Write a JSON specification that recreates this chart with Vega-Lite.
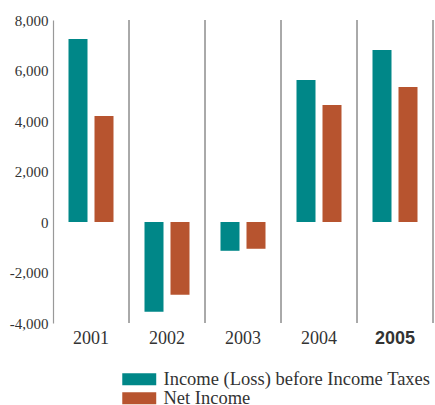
{
  "$schema": "https://vega.github.io/schema/vega-lite/v6.json",
  "width": 380,
  "height": 303,
  "autosize": {"type": "none"},
  "padding": {"left": 53, "top": 20, "right": 2, "bottom": 82},
  "background": "white",
  "config": {"view": {"stroke": null}},
  "data": {
    "values": [
      {"year": "2001", "series": "Income (Loss) before Income Taxes", "value": 7250},
      {"year": "2001", "series": "Net Income", "value": 4200},
      {"year": "2002", "series": "Income (Loss) before Income Taxes", "value": -3550},
      {"year": "2002", "series": "Net Income", "value": -2880},
      {"year": "2003", "series": "Income (Loss) before Income Taxes", "value": -1140},
      {"year": "2003", "series": "Net Income", "value": -1060},
      {"year": "2004", "series": "Income (Loss) before Income Taxes", "value": 5620},
      {"year": "2004", "series": "Net Income", "value": 4630},
      {"year": "2005", "series": "Income (Loss) before Income Taxes", "value": 6810},
      {"year": "2005", "series": "Net Income", "value": 5350}
    ]
  },
  "encoding": {
    "x": {
      "field": "year",
      "type": "nominal",
      "scale": {"paddingInner": 0, "paddingOuter": 0},
      "axis": {
        "title": null,
        "domain": false,
        "ticks": false,
        "labelAngle": 0,
        "labelPadding": 6,
        "labelFontSize": 18,
        "labelColor": "#333333",
        "labelFont": {"condition": {"test": "datum.value == '2005'", "value": "Liberation Sans, Arial, sans-serif"}, "value": "Liberation Serif, Times New Roman, serif"},
        "labelFontWeight": {"condition": {"test": "datum.value == '2005'", "value": "bold"}, "value": "normal"}
      }
    }
  },
  "layer": [
    {
      "mark": {"type": "bar"},
      "encoding": {
        "xOffset": {
          "field": "series",
          "type": "nominal",
          "scale": {"paddingInner": 0.269, "paddingOuter": 0.596}
        },
        "y": {
          "field": "value",
          "type": "quantitative",
          "scale": {"domain": [-4000, 8000], "nice": false},
          "axis": {
            "title": null,
            "values": [-4000, -2000, 0, 2000, 4000, 6000, 8000],
            "labelExpr": "(datum.value < 0 ? '-' : '') + format(abs(datum.value), ',.0f')",
            "grid": false,
            "ticks": false,
            "domainColor": "#999999",
            "domainWidth": 1.2,
            "labelFont": "Liberation Serif, Times New Roman, serif",
            "labelFontSize": 15,
            "labelColor": "#333333",
            "labelPadding": 5
          }
        },
        "color": {
          "field": "series",
          "type": "nominal",
          "scale": {
            "domain": ["Income (Loss) before Income Taxes", "Net Income"],
            "range": ["#008788", "#B7542F"]
          },
          "legend": {
            "title": null,
            "orient": "none",
            "legendX": 77,
            "legendY": 350,
            "padding": 0,
            "symbolType": "M-2.83,-1H2.83V1H-2.83Z",
            "symbolSize": 144,
            "symbolStrokeWidth": 0,
            "labelOffset": 15,
            "labelLimit": 400,
            "labelFont": "Liberation Serif, Times New Roman, serif",
            "labelFontSize": 18.5,
            "labelColor": "#333333",
            "rowPadding": 0
          }
        }
      }
    },
    {
      "mark": {"type": "rule", "color": "#999999", "strokeWidth": 1.2},
      "encoding": {
        "x": {"field": "year", "type": "nominal", "bandPosition": 1}
      }
    },
    {
      "mark": {"type": "rule", "color": "#999999", "strokeWidth": 1.2},
      "encoding": {"y": {"datum": 0}}
    }
  ]
}
